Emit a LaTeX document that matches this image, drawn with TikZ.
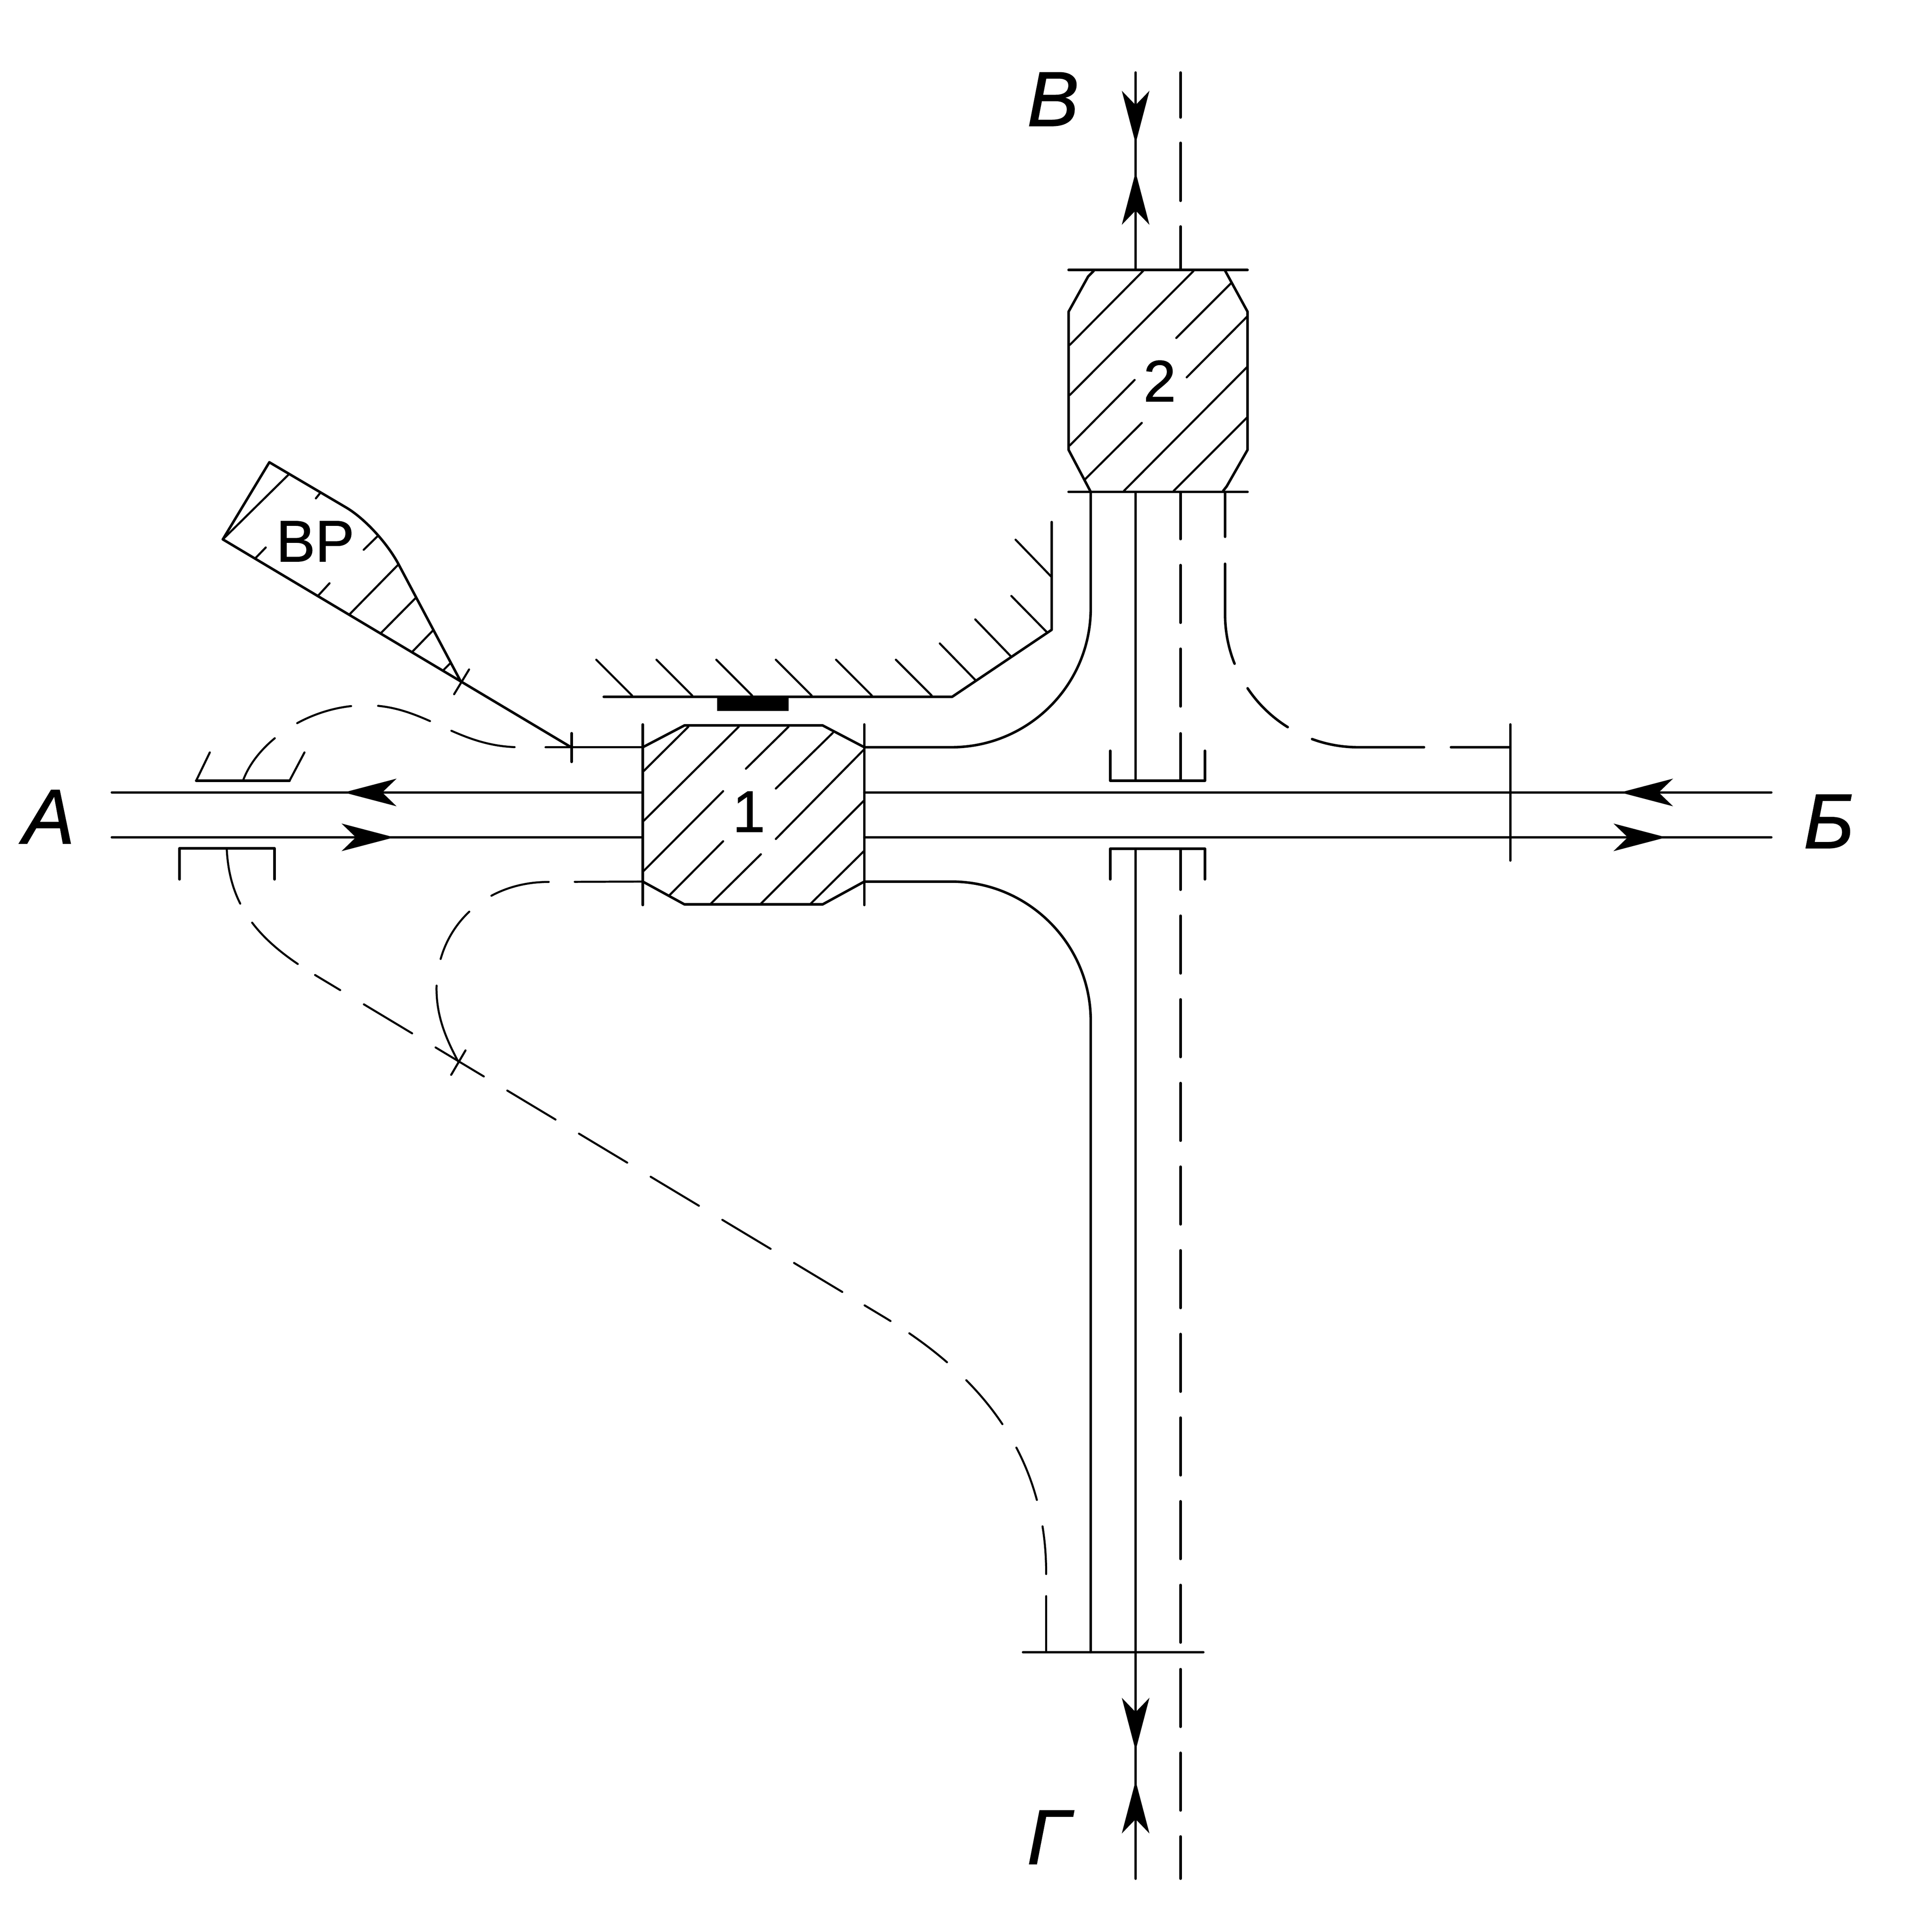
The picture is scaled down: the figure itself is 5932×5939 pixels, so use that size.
\documentclass[tikz,border=0pt]{standalone}
\usepackage{fontspec}
\setmainfont[FakeBold=1]{Liberation Sans}
\usetikzlibrary{arrows.meta}
\tikzset{
  mainline/.style={line width=.078cm,line cap=round,line join=round,black},
  hatchline/.style={line width=.064cm,line cap=round,black},
  thindash/.style={line width=.062cm,line cap=round,black},
  vdash/.style={mainline,dash pattern=on 1.77cm off .80cm},
  flow/.style={line width=.078cm,-{Stealth[length=1.62cm,width=.85cm,inset=.44cm,line width=0pt]}},
  biglabel/.style={inner sep=0pt,anchor=base,font=\fontsize{67.9}{80}\selectfont\itshape},
  smalllabel/.style={inner sep=0pt,anchor=base,font=\fontsize{51.2}{60}\selectfont}
}
\begin{document}
\begin{tikzpicture}[x=.01cm,y=-.01cm]
\useasboundingbox (0,0) rectangle (5932,5939);
\fill[white] (0,0) rectangle (5932,5939);

% main road A-B
\draw[mainline] (344,2436) -- (1976,2436);
\draw[mainline] (344,2574) -- (1976,2574);
\draw[mainline] (2657,2436) -- (5445,2436);
\draw[mainline] (2657,2574) -- (5445,2574);
\draw[flow] (1300,2436) -- (1057,2436);
\draw[flow] (1000,2574) -- (1212,2574);
\draw[flow] (5300,2436) -- (4981,2436);
\draw[flow] (4800,2574) -- (5122,2574);

% block 1
\draw[mainline] (1976,2297) -- (2104,2230) -- (2529,2230) -- (2657,2297);
\draw[mainline] (1976,2710) -- (2104,2780) -- (2529,2780) -- (2657,2710);
\draw[mainline] (1976,2227) -- (1976,2782);
\draw[mainline] (2657,2227) -- (2657,2782);
\draw[hatchline] (1979,2370)--(2116,2234) (1979,2523)--(2271,2234) (1979,2677)--(2223,2432)
  (2057,2753)--(2223,2586) (2185,2778)--(2339,2626) (2339,2778)--(2655,2462)
  (2492,2778)--(2655,2617) (2385,2579)--(2655,2305) (2385,2424)--(2560,2253) (2293,2363)--(2424,2234);
\node[smalllabel] (one) at (2302,2557) {1};

% wall with hatching and black plate
\draw[mainline] (1856,2142) -- (2927,2142) -- (3233,1936) -- (3233,1605);
\fill[black] (2205,2142) rectangle (2424,2185);
\draw[hatchline] (1943,2138)--(1833,2028) (2128,2138)--(2018,2028) (2312,2138)--(2202,2028)
  (2495,2138)--(2385,2028) (2680,2138)--(2570,2028) (2864,2138)--(2754,2028)
  (2999,2091)--(2889,1978) (3108,2018)--(2998,1904) (3218,1943)--(3109,1832) (3232,1773)--(3122,1659);

% block 2
\draw[mainline] (3285,830) -- (3835,830);
\draw[mainline] (3285,1512) -- (3835,1512);
\draw[mainline] (3362,833) -- (3345,850) -- (3285,958) -- (3285,1383) -- (3353,1512);
\draw[mainline] (3765,830) -- (3835,958) -- (3835,1383) -- (3771,1495) -- (3760,1509);
\draw[hatchline] (3289,1060)--(3514,833) (3289,1214)--(3669,833) (3289,1369)--(3488,1168)
  (3335,1474)--(3510,1300) (3616,1039)--(3784,871) (3648,1160)--(3833,974)
  (3455,1509)--(3833,1129) (3608,1509)--(3833,1284);
\node[smalllabel] (two) at (3565,1234) {2};

% road B-G axis
\draw[mainline] (3491,223) -- (3491,830);
\draw[flow] (3491,300) -- (3491,441);
\draw[flow] (3491,800) -- (3491,529);
\draw[mainline,dash pattern=on 1.38cm off .78cm on 1.78cm off .79cm on 2cm] (3629,223) -- (3629,830);
\draw[mainline] (3491,1512) -- (3491,2400);
\draw[mainline,dash pattern=on 1.45cm off .80cm on 1.77cm off .80cm on 1.77cm off .83cm on 1.46cm] (3629,1512) -- (3629,2400);
\draw[mainline] (3413,2308) -- (3413,2400) -- (3704,2400) -- (3704,2308);
\draw[mainline] (3413,2703) -- (3413,2609) -- (3704,2609) -- (3704,2703);
\draw[mainline] (3491,2609) -- (3491,5775);
\draw[mainline] (3629,2609) -- (3629,2735);
\draw[vdash] (3629,2815) -- (3629,5049);
\draw[vdash] (3629,5131) -- (3629,5775);
\draw[mainline] (3145,5079) -- (3699,5079);
\draw[flow] (3491,5150) -- (3491,5381);
\draw[flow] (3491,5700) -- (3491,5474);

% solid ramps of block 1
\draw[mainline] (2657,2297) -- (2925,2297) .. controls (3161,2297) and (3353,2106) .. (3353,1870) -- (3353,1512);
\draw[mainline] (2657,2710) -- (2925,2710) .. controls (3161,2710) and (3353,2902) .. (3353,3138) -- (3353,5079);

% dashed ramp to B side
\draw[mainline,dash pattern=on 1.38cm off .83cm on 3.106cm off .857cm on 1.727cm off .836cm on 3.468cm off .83cm on 1.84cm]
  (3766,1512) -- (3766,1888) .. controls (3766,2114) and (3949,2297) .. (4175,2297) -- (4643,2297);
\draw[mainline] (4643,2227) -- (4643,2645);

% VR island
\draw[mainline] (685,1658) -- (828,1421) -- (1064,1560) .. controls (1120,1593) and (1190,1668) .. (1226,1736) -- (1417,2096);
\draw[mainline] (685,1658) -- (1754,2296);
\draw[hatchline] (685,1658)--(886,1460) (971,1532)--(983,1517) (784,1717)--(817,1683)
  (1118,1690)--(1162,1647) (979,1830)--(1013,1793) (1074,1889)--(1224,1736)
  (1172,1945)--(1278,1838) (1267,2004)--(1331,1938) (1363,2060)--(1384,2039);
\draw[hatchline] (1396,2134) -- (1442,2058);
\draw[mainline] (1757,2254) -- (1757,2342);
\node[smalllabel] (vr) at (969,1726) {ВР};

% left-turn dashed path from the upper bracket
\draw[mainline] (603,2400) -- (890,2400);
\draw[hatchline] (645,2313) -- (603,2400) (890,2400) -- (936,2313);
\draw[thindash,dash pattern=on 1.65cm off .83cm on 1.75cm off .83cm on 1.67cm off .72cm on 2.02cm off .95cm on 4cm]
  (747,2400) .. controls (790,2280) and (950,2168) .. (1125,2168)
  .. controls (1310,2168) and (1400,2297) .. (1600,2297) -- (1976,2297);

% lower bracket and long dashed path
\draw[mainline] (552,2703) -- (552,2608) -- (844,2608) -- (844,2703);
\draw[thindash,dash pattern=on 1.76cm off .69cm on 1.90cm off .63cm on .90cm off .85cm
   on 1.73cm off .84cm on 1.73cm off .84cm on 1.73cm off .84cm on 1.73cm off .84cm on 1.73cm off .84cm on 1.73cm off .84cm on 1.73cm
   off .80cm on .93cm off .69cm on 1.46cm off .81cm on 1.75cm off .84cm on 1.73cm off .83cm on 1.47cm off .68cm on 1.8cm]
  (697,2608) .. controls (705,2790) and (800,2895) .. (965,2995) -- (2720,4050)
  .. controls (2950,4190) and (3216,4420) .. (3216,4835) -- (3216,5079);

% second loop below block 1
\draw[thindash,dash pattern=on 2.09cm off .80cm on 1.83cm off .84cm on 1.72cm off .83cm on 3cm]
  (1976,2710) -- (1687,2711) .. controls (1480,2711) and (1342,2860) .. (1342,3040)
  .. controls (1342,3130) and (1375,3200) .. (1410,3266);
\draw[hatchline] (1431,3229) -- (1387,3304);

% labels
\node[biglabel] (la) at (150,2593) {А};
\node[biglabel] (lb) at (5622,2607) {Б};
\node[biglabel] (lv) at (3237,387) {В};
\node[biglabel] (lg) at (3222,5730) {Г};
\end{tikzpicture}
\end{document}
